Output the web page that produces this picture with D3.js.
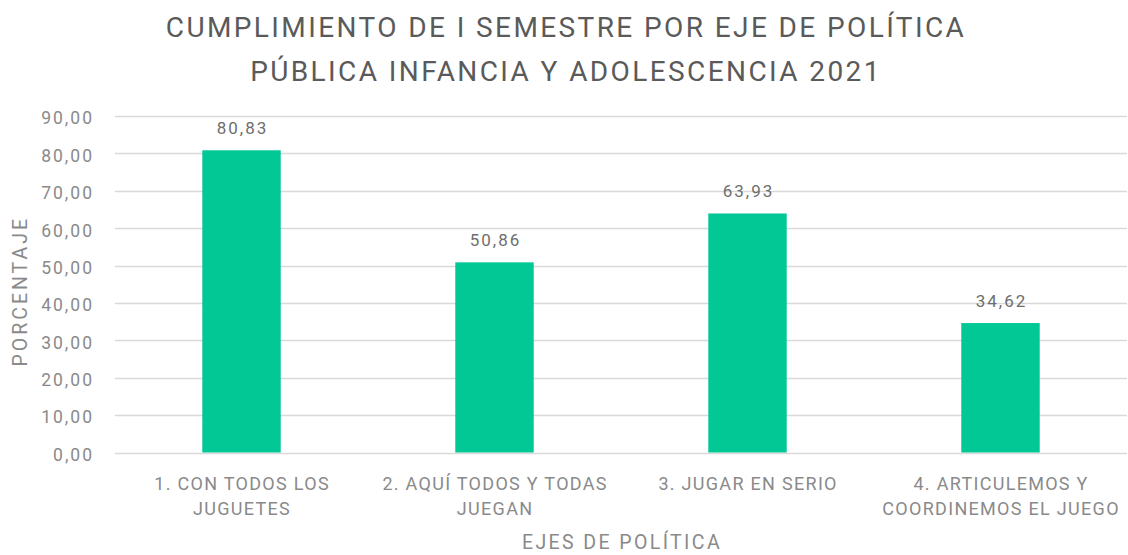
<!DOCTYPE html>
<html>
<head>
<meta charset="utf-8">
<script src="https://cdn.jsdelivr.net/npm/d3@7"></script>
<style>
  html, body { margin: 0; padding: 0; background: #fff; }
  svg { display: block; font-family: Roboto, "Noto Sans", sans-serif; }
</style>
</head>
<body>
<svg id="chart" width="1128" height="555"></svg>
<script>
const titleLines = ["CUMPLIMIENTO DE I SEMESTRE POR EJE DE POLÍTICA", "PÚBLICA INFANCIA Y ADOLESCENCIA 2021"];
const categories = [
  ["1. CON TODOS LOS", "JUGUETES"],
  ["2. AQUÍ TODOS Y TODAS", "JUEGAN"],
  ["3. JUGAR EN SERIO"],
  ["4. ARTICULEMOS Y", "COORDINEMOS EL JUEGO"]
];
const values = [80.83, 50.86, 63.93, 34.62];
const yTicks = [0, 10, 20, 30, 40, 50, 60, 70, 80, 90];
const xAxisTitle = "EJES DE POLÍTICA";
const yAxisTitle = "PORCENTAJE";

const fmt = v => v.toFixed(2).replace(".", ",");

const svg = d3.select("#chart");
const margin = {left: 115, right: 1, top: 116, bottom: 102};
const W = 1128, H = 555;

const x = d3.scaleBand()
  .domain(d3.range(categories.length))
  .range([margin.left, W - margin.right])
  .paddingInner(0.69).paddingOuter(0.345);
const y = d3.scaleLinear().domain([0, 90]).range([H - margin.bottom - 0.5, margin.top]);

// gridlines
svg.append("g").selectAll("line").data(yTicks).join("line")
  .attr("x1", margin.left).attr("x2", W - margin.right)
  .attr("y1", d => Math.round(y(d)) + 0.5).attr("y2", d => Math.round(y(d)) + 0.5)
  .attr("stroke", "#d9d9d9").attr("stroke-width", 1.3);

// y axis labels
const yAxis = d3.axisLeft(y).tickValues(yTicks).tickFormat(fmt).tickSize(0).tickPadding(0);
const gy = svg.append("g").attr("transform", `translate(${margin.left - 21},0)`).call(yAxis);
gy.select(".domain").remove();
gy.selectAll("text").attr("fill", "#8a8a8a").style("font-size", "17.5px")
  .style("letter-spacing", "2px")
  .style("font-family", "Roboto, sans-serif").attr("dy", "0.45em");

// bars
svg.append("g").selectAll("rect").data(values).join("rect")
  .attr("x", (d, i) => x(i)).attr("width", x.bandwidth())
  .attr("y", d => y(d)).attr("height", d => y(0) - y(d))
  .attr("fill", "#02c896");

// data labels
svg.append("g").selectAll("text").data(values).join("text")
  .attr("x", (d, i) => x(i) + x.bandwidth() / 2 + 1)
  .attr("y", d => y(d) - 16)
  .attr("text-anchor", "middle").attr("fill", "#6e6e6e")
  .style("font-size", "17px").style("letter-spacing", "2px").text(d => fmt(d));

// x category labels
const xl = svg.append("g").selectAll("text").data(categories).join("text")
  .attr("text-anchor", "middle").attr("fill", "#8a8a8a")
  .style("font-size", "18px").style("letter-spacing", "1.3px");
xl.each(function(lines, i) {
  d3.select(this).selectAll("tspan").data(lines).join("tspan")
    .attr("x", x(i) + x.bandwidth() / 2 + 0.6)
    .attr("y", (l, j) => 490 + j * 25)
    .text(l => l);
});

// axis titles
svg.append("text").attr("x", (margin.left + W - margin.right) / 2 + 1).attr("y", 549)
  .attr("text-anchor", "middle").attr("fill", "#8a8a8a")
  .style("font-size", "19.5px").style("letter-spacing", "2.4px").text(xAxisTitle);
svg.append("text").attr("transform", `translate(27,${(y(0) + y(90)) / 2 + 7}) rotate(-90)`)
  .attr("text-anchor", "middle").attr("fill", "#8a8a8a")
  .style("font-size", "19.5px").style("letter-spacing", "3px").text(yAxisTitle);

// title
svg.append("g").selectAll("text").data(titleLines).join("text")
  .attr("x", 566).attr("y", (d, i) => 37 + i * 44)
  .attr("text-anchor", "middle").attr("fill", "#5a5a5a")
  .style("font-size", "28px").style("letter-spacing", "2.4px").text(d => d);
</script>
</body>
</html>
